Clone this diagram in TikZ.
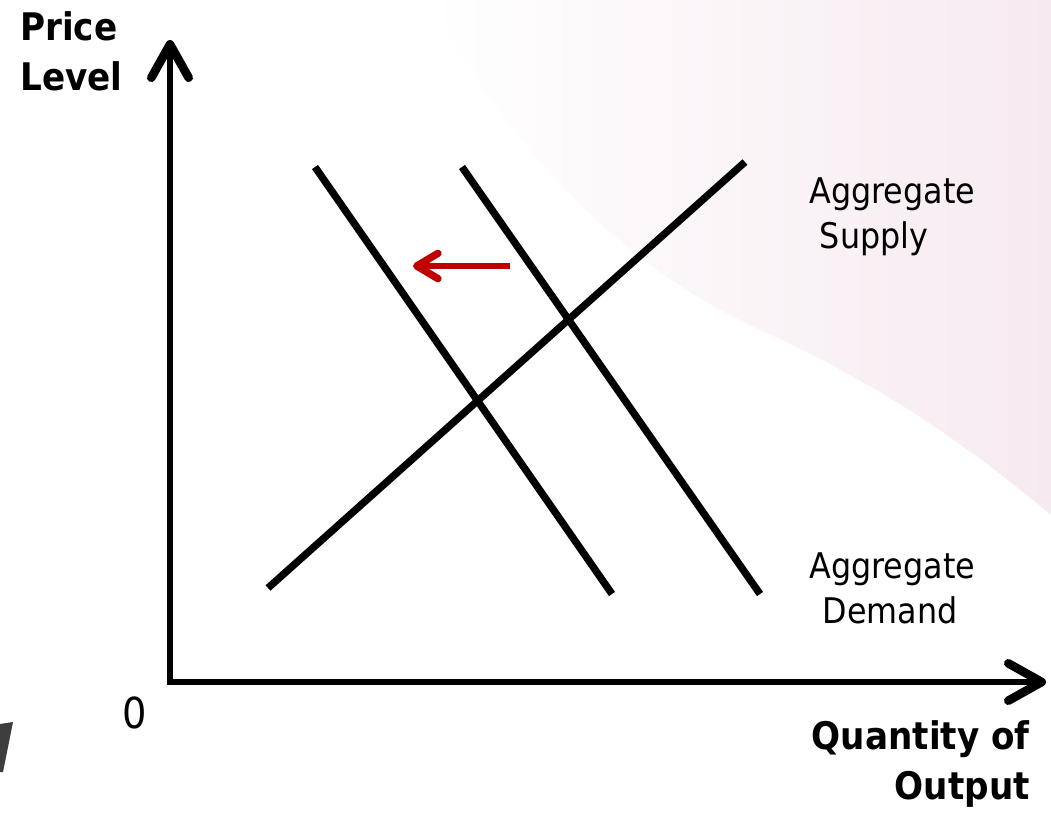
\documentclass[tikz,border=0pt]{standalone}
\usepackage{fontspec}
\setmainfont{DejaVu Sans}[FakeStretch=0.9]
\usetikzlibrary{arrows.meta}

\definecolor{shiftred}{RGB}{192,0,0}
\definecolor{bgpink}{RGB}{246,234,240}
\definecolor{fraggray}{RGB}{62,62,62}

\begin{document}
\begin{tikzpicture}[
    x=0.75pt, y=-0.75pt,
    axis/.style={line width=5pt, line join=miter},
    curve/.style={line width=5.5pt},
    shiftarrow/.style={line width=5pt, shiftred},
    lbl/.style={font=\fontsize{26.5}{33.75}\selectfont, align=left, inner sep=0pt},
    boldlbl/.style={font=\bfseries\fontsize{28.5}{37.5}\selectfont, inner sep=0pt}
]
\useasboundingbox (0,0) rectangle (1051,815);

% Background
\shade[left color=white, right color=bgpink]
    (430,0) -- (1051,0) -- (1051,515)
    .. controls (950,430) and (860,375) .. (760,330)
    .. controls (640,275) and (520,170) .. (430,0) -- cycle;
\fill[fraggray] (0,724) -- (13,722) -- (3,772) -- (0,772) -- cycle;

% Axes
\coordinate (O) at (170,682);
\coordinate (ytip) at (170,40);
\coordinate (xtip) at (1046,682);
\draw[axis, {Straight Barb[round,line width=6.5pt,length=25pt,width=28pt]}-{Straight Barb[round,line width=6.5pt,length=25pt,width=28pt]}]
    (ytip) -- (O) -- (xtip);

% Curves
\coordinate (AS1) at (268,588);
\coordinate (AS2) at (745,162);
\coordinate (ADa1) at (315,167);
\coordinate (ADa2) at (612,594);
\coordinate (ADb1) at (462,167);
\coordinate (ADb2) at (760,594);
\draw[curve] (AS1) -- (AS2);
\draw[curve] (ADa1) -- (ADa2);
\draw[curve] (ADb1) -- (ADb2);

% Shift of demand
\coordinate (shiftfrom) at (510,266);
\coordinate (shiftto) at (413,266);
\draw[shiftarrow, -{Straight Barb[round,line width=5.5pt,length=16pt,width=19pt]}] (shiftfrom) -- (shiftto);

% Labels (base = last line)
\node[boldlbl, align=left, anchor=base west] (pricelbl) at (20,90) {Price\\Level};
\node[boldlbl, align=right, anchor=base east] (qtylbl) at (1030,799) {Quantity of\\Output};
\node[lbl, anchor=base west] (aslbl) at (809,248) {Aggregate\\\hspace*{8pt}Supply};
\node[lbl, anchor=base west] (adlbl) at (809,623) {Aggregate\\\hspace*{10pt}Demand};
\node[font=\fontsize{32}{38}\selectfont, inner sep=0pt] (zero) at (135,713) {0};

\end{tikzpicture}
\end{document}
